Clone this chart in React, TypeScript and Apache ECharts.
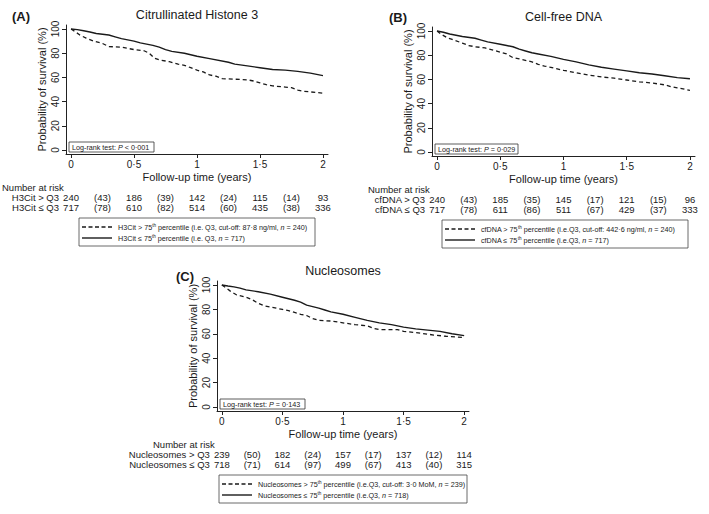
import { useEffect, useRef } from "react";
import * as echarts from "echarts";

// ---------- data ----------
const xTicks = [0, 0.5, 1, 1.5, 2];
const yTicks = [0, 20, 40, 60, 80, 100];
const atRiskTimes = [0, 0.5, 1, 1.5, 2];
const censorTimes = [0.25, 0.75, 1.25, 1.75];

const panelTitles = ["Citrullinated Histone 3", "Cell-free DNA", "Nucleosomes"];
const panelLetters = ["(A)", "(B)", "(C)"];
const pValueTexts = ["< 0·001", "= 0·029", "= 0·143"];
const groupNames = ["H3Cit", "cfDNA", "Nucleosomes"];
const cutoffs = ["87·8 ng/ml", "442·6 ng/ml", "3·0 MoM"];
const q3Texts = ["i.e. Q3", "i.e.Q3", "i.e.Q3"];
const nHigh = [240, 240, 239];
const nLow = [717, 717, 718];

const atRiskHigh = [
  [240, 186, 142, 115, 93],
  [240, 185, 145, 121, 96],
  [239, 182, 157, 137, 114],
];
const censoredHigh = [
  [43, 39, 24, 14],
  [43, 35, 17, 15],
  [50, 24, 17, 12],
];
const atRiskLow = [
  [717, 610, 514, 435, 336],
  [717, 611, 511, 429, 333],
  [718, 614, 499, 413, 315],
];
const censoredLow = [
  [78, 82, 60, 38],
  [78, 86, 67, 37],
  [71, 97, 67, 40],
];

// survival curves [years, %]
const survLowA = [
  [0, 100], [0.05, 99.5], [0.1, 98.5], [0.15, 97.5], [0.2, 96.3], [0.3, 95], [0.35, 93.5],
  [0.4, 92], [0.5, 90], [0.55, 88.5], [0.6, 87.5], [0.65, 86.5], [0.7, 85], [0.75, 83],
  [0.8, 81.5], [0.9, 80], [1.0, 77.5], [1.1, 75.5], [1.25, 72.5], [1.3, 71], [1.4, 69.5],
  [1.5, 68], [1.6, 66.5], [1.7, 66], [1.8, 65], [1.9, 63.5], [2.0, 61.5],
];
const survHighA = [
  [0, 100], [0.03, 98], [0.07, 95], [0.12, 92.5], [0.18, 90], [0.25, 88], [0.3, 85.5],
  [0.4, 85], [0.45, 84], [0.5, 83], [0.58, 82], [0.62, 80], [0.66, 76], [0.7, 74.5],
  [0.78, 73], [0.85, 71], [0.9, 70], [0.95, 68], [1.0, 66], [1.05, 64.5], [1.1, 62],
  [1.15, 61], [1.2, 59], [1.3, 58.5], [1.4, 58], [1.45, 57], [1.5, 55.5], [1.55, 54],
  [1.6, 53], [1.7, 52], [1.75, 51.5], [1.8, 49.5], [1.85, 48.5], [1.9, 48], [2.0, 47],
];
const survLowB = [
  [0, 100], [0.05, 99], [0.1, 97.5], [0.2, 95.5], [0.3, 94], [0.35, 92.5], [0.4, 91],
  [0.5, 89], [0.55, 88], [0.6, 87], [0.65, 85], [0.7, 83.5], [0.75, 82], [0.8, 81],
  [0.9, 79], [1.0, 76.5], [1.1, 74.5], [1.2, 72], [1.3, 70], [1.4, 68.5], [1.5, 67],
  [1.6, 65.5], [1.7, 64.5], [1.8, 63], [1.9, 61.5], [2.0, 60.5],
];
const survHighB = [
  [0, 100], [0.03, 97.5], [0.08, 94.5], [0.12, 93], [0.2, 90], [0.25, 88], [0.3, 87],
  [0.38, 86], [0.45, 84], [0.5, 82.5], [0.55, 81], [0.6, 78], [0.65, 77], [0.75, 74.5],
  [0.8, 72.5], [0.85, 71], [0.9, 70], [1.0, 67.5], [1.1, 65.5], [1.2, 63.5], [1.3, 62],
  [1.4, 61], [1.5, 59.5], [1.6, 58], [1.7, 57], [1.8, 55.5], [1.85, 54], [1.9, 53], [2.0, 51],
];
const survLowC = [
  [0, 100], [0.05, 99.2], [0.1, 98.5], [0.15, 97.5], [0.2, 96], [0.3, 94.5], [0.4, 92.5],
  [0.5, 90], [0.6, 87.5], [0.65, 86], [0.7, 83.5], [0.8, 81], [0.85, 79.5], [0.9, 78],
  [1.0, 76], [1.1, 73.5], [1.2, 71], [1.3, 69], [1.4, 67.5], [1.5, 65.5], [1.6, 64],
  [1.7, 63], [1.8, 62], [1.9, 60], [2.0, 58.5],
];
const survHighC = [
  [0, 100], [0.03, 98], [0.07, 95], [0.12, 92], [0.2, 90], [0.25, 88], [0.3, 85],
  [0.35, 83], [0.45, 81], [0.5, 80], [0.55, 79], [0.6, 77.5], [0.65, 76], [0.7, 75],
  [0.75, 72.5], [0.8, 71], [0.9, 70.5], [1.0, 69], [1.1, 67.5], [1.2, 66.5], [1.25, 64.5],
  [1.3, 63.5], [1.45, 63.5], [1.5, 62], [1.6, 61], [1.75, 59], [1.85, 58], [2.0, 57],
];

const survHigh = [survHighA, survHighB, survHighC];
const survLow = [survLowA, survLowB, survLowC];

// ---------- layout ----------
const FONT = "'Liberation Sans', Arial, Helvetica, sans-serif";
const INK = "#1a1a1a";
const grids = [
  { left: 66, top: 25, width: 262, height: 129 },
  { left: 432, top: 27, width: 263, height: 129 },
  { left: 217, top: 281, width: 252, height: 130 },
];
const letterPos = [
  [12, 16],
  [389, 17],
  [176, 276],
];
const legendBoxes = [
  { x: 79, w: 236 },
  { x: 442, w: 246 },
  { x: 219, w: 248 },
];
const logRankWidths = [85, 83, 85];
const RISK_FS = 9.5;
const LEG_FS = 7.2;

const fmt = (v: number) => String(v).replace(".", "·");

function txt(x: number, y: number, text: string, fontSize: number, align = "left", extra: any = {}) {
  return {
    type: "text",
    x,
    y,
    silent: true,
    style: {
      text,
      fill: extra.fill || INK,
      fontSize,
      fontFamily: FONT,
      fontWeight: extra.fontWeight || "normal",
      align,
      verticalAlign: "middle",
      textAlign: align,
      textVerticalAlign: "middle",
      rich: extra.rich,
    },
  };
}

export default function App() {
  const ref = useRef<HTMLDivElement>(null);

  useEffect(() => {
    document.body.style.margin = "0";
    const el = ref.current!;
    const chart = echarts.init(el, null, { renderer: "svg" });

    const xAxes = grids.map((_, i) => ({
      type: "value",
      gridIndex: i,
      min: -0.04,
      max: 2.04,
      name: "Follow-up time (years)",
      nameLocation: "middle",
      nameGap: 17,
      nameTextStyle: { fontSize: 11, color: INK, fontFamily: FONT },
      axisLine: { onZero: false, lineStyle: { color: "#222", width: 1 } },
      axisTick: { show: true, length: 4, customValues: xTicks, lineStyle: { color: "#222" } },
      axisLabel: {
        customValues: xTicks,
        formatter: (v: number) => fmt(v),
        fontSize: 10,
        color: INK,
        fontFamily: FONT,
        margin: 5,
      },
      splitLine: { show: false },
    }));
    const yAxes = grids.map((_, i) => ({
      type: "value",
      gridIndex: i,
      min: -3.3,
      max: 103.3,
      name: "Probability of survival (%)",
      nameLocation: "middle",
      nameGap: 19,
      nameTextStyle: { fontSize: 11, color: INK, fontFamily: FONT },
      axisLine: { onZero: false, lineStyle: { color: "#222", width: 1 } },
      axisTick: { show: true, length: 4, customValues: yTicks, lineStyle: { color: "#222" } },
      axisLabel: {
        customValues: yTicks,
        rotate: 90,
        fontSize: 10,
        color: INK,
        fontFamily: FONT,
        margin: 6,
      },
      splitLine: { show: false },
    }));

    const series: any[] = [];
    grids.forEach((_, i) => {
      series.push({
        type: "line",
        xAxisIndex: i,
        yAxisIndex: i,
        data: survHigh[i],
        showSymbol: false,
        silent: true,
        lineStyle: { color: INK, width: 1.3, type: [4, 3] },
      });
      series.push({
        type: "line",
        xAxisIndex: i,
        yAxisIndex: i,
        data: survLow[i],
        showSymbol: false,
        silent: true,
        lineStyle: { color: INK, width: 1.4, type: "solid" },
      });
    });

    chart.setOption({
      animation: false,
      backgroundColor: "#ffffff",
      grid: grids.map((g) => ({ ...g, outerBoundsMode: "none", containLabel: false })),
      xAxis: xAxes,
      yAxis: yAxes,
      series,
    });

    const graphic: any[] = [];
    grids.forEach((gr, i) => {
      const bottom = gr.top + gr.height;
      const px = (t: number) => chart.convertToPixel({ xAxisIndex: i }, t) as number;
      // title and letter
      graphic.push(txt(gr.left + gr.width / 2, gr.top - 10, panelTitles[i], 12.5, "center"));
      graphic.push(txt(letterPos[i][0], letterPos[i][1], panelLetters[i], 13, "left", { fontWeight: "bold" }));
      // log-rank box
      const lx = gr.left + 3;
      const ly = bottom - 12;
      graphic.push({
        type: "rect",
        silent: true,
        shape: { x: lx, y: ly, width: logRankWidths[i], height: 10 },
        style: { fill: "#fff", stroke: "#333", lineWidth: 0.8 },
      });
      graphic.push(
        txt(lx + 3, ly + 5.2, `Log-rank test: {i|P} ${pValueTexts[i]}`, 7.2, "left", {
          rich: { i: { fontStyle: "italic", fontSize: 7.2, fontFamily: FONT, fill: INK } },
        })
      );
      // risk table
      const x0 = px(0);
      graphic.push(txt(gr.left - 64, bottom + 33, "Number at risk", RISK_FS, "left"));
      graphic.push(txt(x0 - 12, bottom + 43, `${groupNames[i]} > Q3`, RISK_FS, "right"));
      graphic.push(txt(x0 - 12, bottom + 53, `${groupNames[i]} ≤ Q3`, RISK_FS, "right"));
      atRiskTimes.forEach((t, k) => {
        graphic.push(txt(px(t), bottom + 43, String(atRiskHigh[i][k]), RISK_FS, "center"));
        graphic.push(txt(px(t), bottom + 53, String(atRiskLow[i][k]), RISK_FS, "center"));
      });
      censorTimes.forEach((t, k) => {
        graphic.push(txt(px(t), bottom + 43, `(${censoredHigh[i][k]})`, RISK_FS, "center"));
        graphic.push(txt(px(t), bottom + 53, `(${censoredLow[i][k]})`, RISK_FS, "center"));
      });
      // legend box
      const lb = legendBoxes[i];
      const by = bottom + 64;
      graphic.push({
        type: "rect",
        silent: true,
        shape: { x: lb.x, y: by, width: lb.w, height: 28 },
        style: { fill: "#fff", stroke: "#444", lineWidth: 0.8 },
      });
      graphic.push({
        type: "line",
        silent: true,
        shape: { x1: lb.x + 3, y1: by + 9, x2: lb.x + 33, y2: by + 9 },
        style: { stroke: INK, lineWidth: 1.3, lineDash: [4, 2.5] },
      });
      graphic.push({
        type: "line",
        silent: true,
        shape: { x1: lb.x + 3, y1: by + 20, x2: lb.x + 33, y2: by + 20 },
        style: { stroke: INK, lineWidth: 1.4 },
      });
      const rich = {
        s: { fontSize: 4.6, fontFamily: FONT, fill: "#222", verticalAlign: "top", lineHeight: 8 },
        i: { fontStyle: "italic", fontSize: LEG_FS, fontFamily: FONT, fill: "#222" },
      };
      graphic.push(
        txt(
          lb.x + 39,
          by + 9,
          `${groupNames[i]} > 75{s|th} percentile (${q3Texts[i]}, cut-off: ${cutoffs[i]}, {i|n} = ${nHigh[i]})`,
          LEG_FS,
          "left",
          { rich, fill: "#222" }
        )
      );
      graphic.push(
        txt(
          lb.x + 39,
          by + 20,
          `${groupNames[i]} ≤ 75{s|th} percentile (${q3Texts[i]}, {i|n} = ${nLow[i]})`,
          LEG_FS,
          "left",
          { rich, fill: "#222" }
        )
      );
    });

    chart.setOption({ graphic });

    return () => {
      chart.dispose();
    };
  }, []);

  return <div ref={ref} style={{ width: 709, height: 514 }} />;
}
